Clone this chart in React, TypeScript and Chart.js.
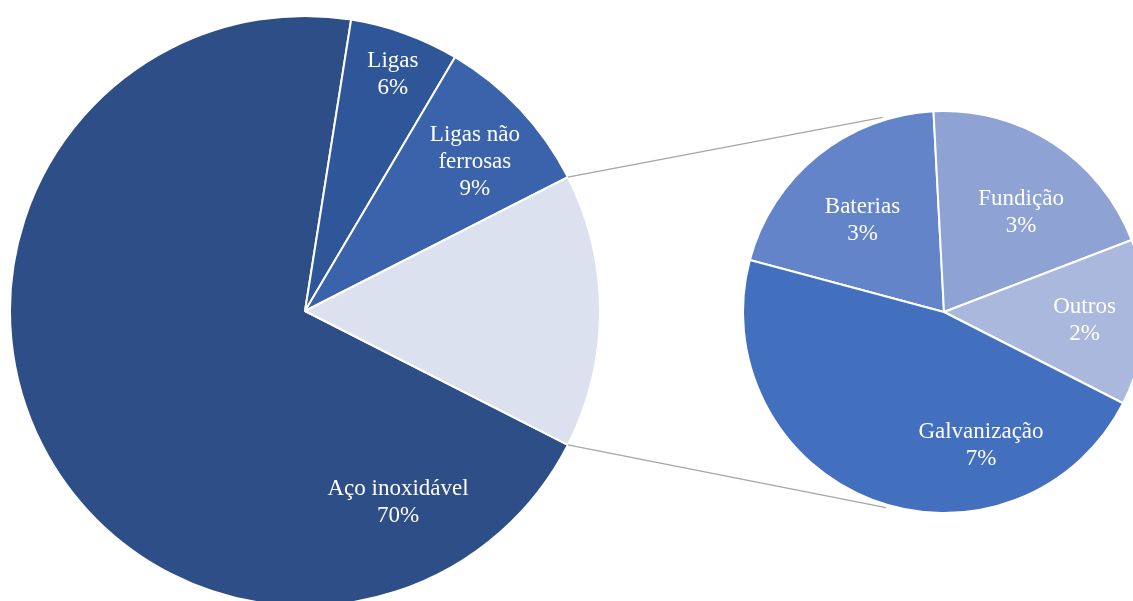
import React, { useEffect, useRef } from "react";
import { Chart, registerables } from "chart.js";

Chart.register(...registerables);

// Main pie
const mainCategories: (string | string[])[] = ["Aço inoxidável", "Ligas", ["Ligas não", "ferrosas"], "Outros usos"];
const mainValues = [70, 6, 9, 15];
const mainColors = ["#2E4E87", "#30569A", "#3A63AC", "#DCE1EF"];
const mainShowLabel = [true, true, true, false];

// Secondary pie (breakdown of "Outros usos")
const subCategories: (string | string[])[] = ["Baterias", "Fundição", "Outros", "Galvanização"];
const subValues = [3, 3, 2, 7];
const subColors = ["#6384C9", "#8FA2D4", "#ABB8DD", "#436FBF"];
const subShowLabel = [true, true, true, true];

// label anchors: [angle in degrees clockwise from top, fraction of radius]
const mainLabelAnchors: ([number, number] | null)[] = [[153.8, 0.714], [20.2, 0.863], [48.4, 0.77], null];
const subLabelAnchors: ([number, number] | null)[] = [[318.9, 0.617], [37.1, 0.636], [92.7, 0.7], [164.3, 0.68]];

const W = 1133;
const H = 601;
const FONT = "23px 'Liberation Serif', 'Times New Roman', serif";
const LINE_H = 27;
const TEXT_DY = 2;

function makeLabelPlugin(id: string, cats: (string | string[])[], vals: number[], show: boolean[], anchors: ([number, number] | null)[]) {
  return {
    id,
    afterDatasetsDraw(chart: any) {
      const meta = chart.getDatasetMeta(0);
      const ctx = chart.ctx as CanvasRenderingContext2D;
      ctx.save();
      ctx.font = FONT;
      ctx.fillStyle = "#FFFFFF";
      ctx.textAlign = "center";
      ctx.textBaseline = "middle";
      meta.data.forEach((arc: any, i: number) => {
        if (!show[i] || !anchors[i]) return;
        const [deg, frac] = anchors[i] as [number, number];
        const a = (deg * Math.PI) / 180;
        const r = arc.outerRadius * frac;
        const cx = arc.x + Math.sin(a) * r;
        const cy = arc.y - Math.cos(a) * r + TEXT_DY;
        const c = cats[i];
        const lines = [...(Array.isArray(c) ? c : [c]), `${vals[i]}%`];
        const top = cy - ((lines.length - 1) * LINE_H) / 2;
        lines.forEach((ln, k) => ctx.fillText(ln, cx, top + k * LINE_H));
      });
      ctx.restore();
    },
  };
}

export default function App() {
  const mainRef = useRef<HTMLCanvasElement | null>(null);
  const subRef = useRef<HTMLCanvasElement | null>(null);

  useEffect(() => {
    document.body.style.margin = "0";
    document.body.style.overflow = "hidden";
    if (!mainRef.current || !subRef.current) return;

    const mainChart = new Chart(mainRef.current, {
      type: "pie",
      data: {
        labels: mainCategories as any,
        datasets: [
          {
            data: mainValues,
            backgroundColor: mainColors,
            borderColor: "#FFFFFF",
            borderWidth: 2,
            rotation: 117,
            radius: 295,
            clip: false as any,
          } as any,
        ],
      },
      options: {
        responsive: false,
        animation: false,
        devicePixelRatio: 1,
        layout: { padding: { left: 0, right: W - 610, top: 21, bottom: 0 } },
        plugins: { legend: { display: false }, tooltip: { enabled: false } },
        events: [],
      },
      plugins: [makeLabelPlugin("mainLabels", mainCategories, mainValues, mainShowLabel, mainLabelAnchors)],
    });

    const connectorPlugin = {
      id: "connectors",
      afterDraw(chart: any) {
        const mArc: any = mainChart.getDatasetMeta(0).data[3];
        const sArc: any = chart.getDatasetMeta(0).data[0];
        if (!mArc || !sArc) return;
        const ctx = chart.ctx as CanvasRenderingContext2D;
        const p1 = { x: mArc.x + Math.cos(mArc.startAngle) * mArc.outerRadius, y: mArc.y + Math.sin(mArc.startAngle) * mArc.outerRadius };
        const p2 = { x: mArc.x + Math.cos(mArc.endAngle) * mArc.outerRadius, y: mArc.y + Math.sin(mArc.endAngle) * mArc.outerRadius };
        const aTop = ((-17.5 - 90) * Math.PI) / 180;
        const aBot = ((196.5 - 90) * Math.PI) / 180;
        const R = sArc.outerRadius + 3;
        const q1 = { x: sArc.x + Math.cos(aTop) * R, y: sArc.y + Math.sin(aTop) * R };
        const q2 = { x: sArc.x + Math.cos(aBot) * R, y: sArc.y + Math.sin(aBot) * R };
        ctx.save();
        ctx.strokeStyle = "#A6A6A6";
        ctx.lineWidth = 1.2;
        ctx.beginPath();
        ctx.moveTo(p1.x, p1.y);
        ctx.lineTo(q1.x, q1.y);
        ctx.moveTo(p2.x, p2.y);
        ctx.lineTo(q2.x, q2.y);
        ctx.stroke();
        ctx.restore();
      },
    };

    const subChart = new Chart(subRef.current, {
      type: "pie",
      data: {
        labels: subCategories as any,
        datasets: [
          {
            data: subValues,
            backgroundColor: subColors,
            borderColor: "#FFFFFF",
            borderWidth: 2,
            rotation: -75,
            radius: 201,
            clip: false as any,
          } as any,
        ],
      },
      options: {
        responsive: false,
        animation: false,
        devicePixelRatio: 1,
        layout: { padding: { left: 755, right: 0, top: 23, bottom: 0 } },
        plugins: { legend: { display: false }, tooltip: { enabled: false } },
        events: [],
      },
      plugins: [makeLabelPlugin("subLabels", subCategories, subValues, subShowLabel, subLabelAnchors), connectorPlugin],
    });

    return () => {
      subChart.destroy();
      mainChart.destroy();
    };
  }, []);

  return (
    <div style={{ position: "fixed", left: 0, top: 0, width: W, height: H, background: "#FFFFFF", overflow: "hidden" }}>
      <canvas ref={mainRef} width={W} height={H} style={{ position: "absolute", left: 0, top: 0, width: W, height: H }} />
      <canvas ref={subRef} width={W} height={H} style={{ position: "absolute", left: 0, top: 0, width: W, height: H }} />
    </div>
  );
}
